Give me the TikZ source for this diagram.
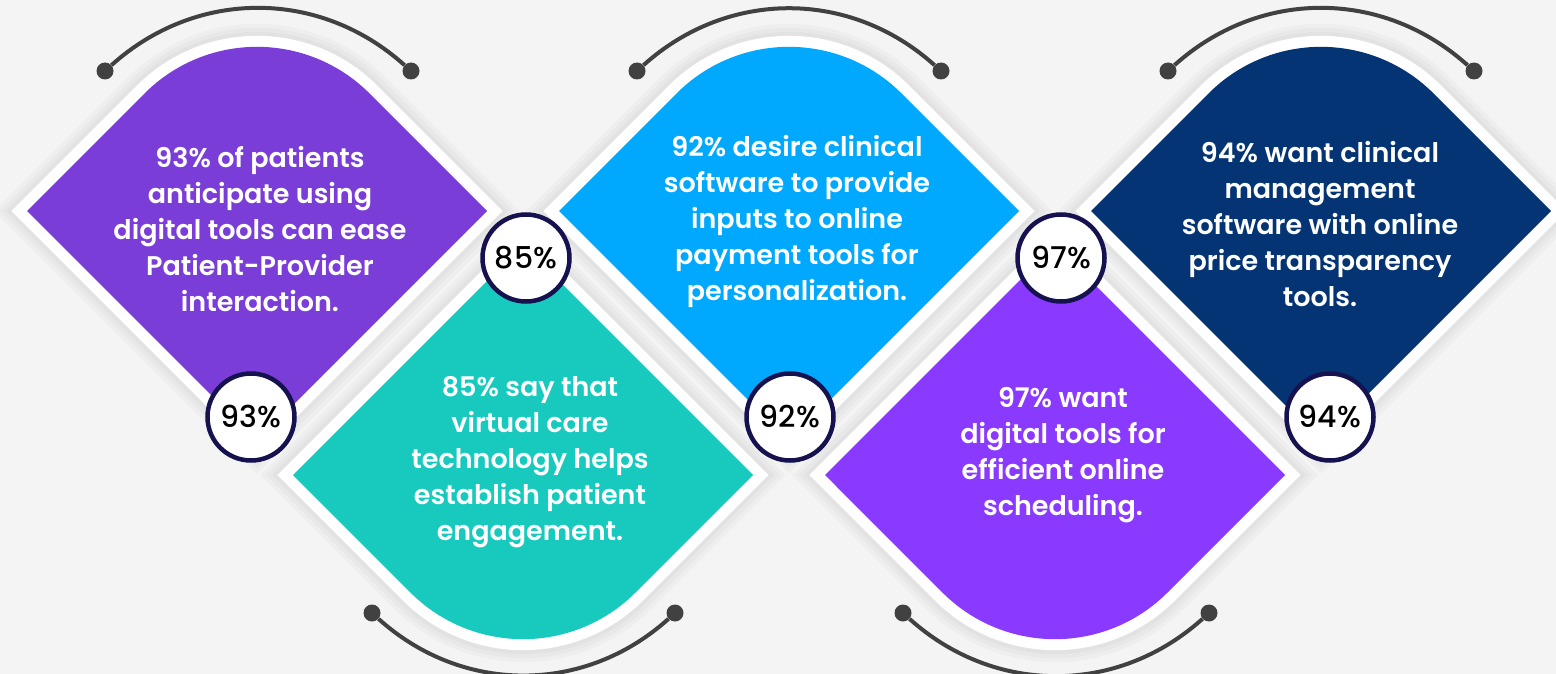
\documentclass[tikz,border=0pt]{standalone}
\usepackage{fontspec}
\setmainfont{Poppins}[BoldFont={* SemiBold}]
\newfontfamily\badgefont{Poppins Medium}
\usetikzlibrary{positioning}
\definecolor{bgcol}{HTML}{F4F4F4}
\definecolor{purplecol}{HTML}{7B3DD8}
\definecolor{tealcol}{HTML}{18CABE}
\definecolor{bluecol}{HTML}{00A8FE}
\definecolor{violetcol}{HTML}{8A3AFF}
\definecolor{navycol}{HTML}{043473}
\definecolor{ringcol}{HTML}{16124F}
\definecolor{arccol}{HTML}{414141}
\tikzstyle{card} = [preaction={draw=black, opacity=0.025, line width=46pt, line join=miter},
  preaction={draw=black, opacity=0.025, line width=38pt, line join=miter},
  preaction={draw=black, opacity=0.025, line width=30pt, line join=miter},
  preaction={draw=white, line width=22pt, line join=miter}]
\tikzstyle{cardtext} = [text=white, align=center, font=\fontsize{27}{36}\selectfont\bfseries]
\tikzstyle{badge} = [circle, draw=ringcol, line width=4.5pt, fill=white, minimum size=87pt, inner sep=0pt, font=\fontsize{30}{30}\selectfont\badgefont]
\tikzstyle{dot} = [circle, fill=arccol, minimum size=17pt, inner sep=0pt]
\tikzstyle{arc} = [draw=arccol, line width=4pt]

\begin{document}
\begin{tikzpicture}[x=1pt, y=-1pt]
\useasboundingbox [fill=bgcol] (0,0) rectangle (1556,674);

%%% cards %%%%%%%%%%%%%%%%%%%%%%%%%
\path [card, fill=purplecol] (27,211) -- (144.6,93.4) arc[start angle=225, end angle=315, radius=159] -- (487,211) -- (257,441) -- cycle;
\path [card, fill=bluecol] (559,211) -- (676.6,93.4) arc[start angle=225, end angle=315, radius=159] -- (1019,211) -- (789,441) -- cycle;
\path [card, fill=navycol] (1091,211) -- (1208.6,93.4) arc[start angle=225, end angle=315, radius=159] -- (1551,211) -- (1321,441) -- cycle;
\path [card, fill=tealcol] (293,475) -- (523,245) -- (753,475) -- (635.4,592.6) arc[start angle=45, end angle=135, radius=159] -- cycle;
\path [card, fill=violetcol] (825,475) -- (1055,245) -- (1285,475) -- (1167.4,592.6) arc[start angle=45, end angle=135, radius=159] -- cycle;

\node (txt93) [cardtext] at (260,229) {93\% of patients\\anticipate using\\digital tools can ease\\Patient-Provider\\interaction.};
\node (txt92) [cardtext] at (797,221) {92\% desire clinical\\software to provide\\inputs to online\\payment tools for\\personalization.};
\node (txt94) [cardtext] at (1320,224) {94\% want clinical\\management\\software with online\\price transparency\\tools.};
\node (txt85) [cardtext] at (530,462) {85\% say that\\virtual care\\technology helps\\establish patient\\engagement.};
\node (txt97) [cardtext] at (1063,455) {97\% want\\digital tools for\\efficient online\\scheduling.};

%%% badges %%%%%%%%%%%%%%%%%%%%%%%%
\node (b93) [badge] at (251,417) {93\%};
\node (b92) [badge] at (790,417) {92\%};
\node (b94) [badge] at (1330,417) {94\%};
\node (b85) [badge] at (526,258) {85\%};
\node (b97) [badge] at (1061,258) {97\%};

%%% arcs %%%%%%%%%%%%%%%%%%%%%%%%%%
\node (t1l) [dot] at (105,71) {};
\node (t1r) [dot] at (411,71) {};
\node (t2l) [dot] at (637,71) {};
\node (t2r) [dot] at (941,71) {};
\node (t3l) [dot] at (1168,71) {};
\node (t3r) [dot] at (1474,71) {};
\node (d1l) [dot] at (372,613) {};
\node (d1r) [dot] at (675,613) {};
\node (d2l) [dot] at (903,613) {};
\node (d2r) [dot] at (1209,613) {};

\draw [arc] (t1l) to[bend left=42] (t1r);
\draw [arc] (t2l) to[bend left=42] (t2r);
\draw [arc] (t3l) to[bend left=42] (t3r);
\draw [arc] (d1l) to[bend right=42] (d1r);
\draw [arc] (d2l) to[bend right=42] (d2r);
\end{tikzpicture}
\end{document}
